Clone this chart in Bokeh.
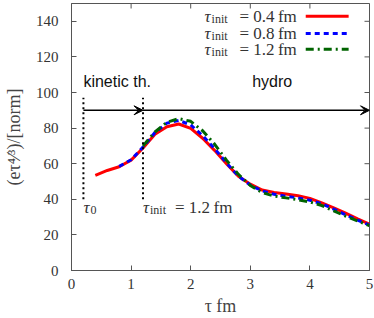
import numpy as np
from bokeh.plotting import figure
from bokeh.models import Range1d, FixedTicker, Arrow, VeeHead
from bokeh.core.properties import value
from bokeh.embed import file_html
from bokeh.resources import INLINE

# ---- data ----
tau_04 = [0.4, 0.6, 0.8, 1.0, 1.2, 1.4, 1.6, 1.8, 2.0, 2.2, 2.4, 2.6, 2.8, 3.0,
          3.2, 3.4, 3.6, 3.8, 4.0, 4.2, 4.4, 4.6, 4.8, 5.0]
e_04 = [53.5, 56.2, 58.3, 62.0, 68.8, 76.5, 80.8, 82.3, 79.8, 74.3, 67.5, 60.0,
        53.0, 48.5, 45.2, 43.8, 43.0, 42.0, 40.5, 38.0, 35.2, 32.2, 29.0, 26.0]

tau_08 = [0.8, 1.0, 1.2, 1.4, 1.6, 1.8, 2.0, 2.2, 2.4, 2.6, 2.8, 3.0,
          3.2, 3.4, 3.6, 3.8, 4.0, 4.2, 4.4, 4.6, 4.8, 5.0]
e_08 = [58.5, 62.2, 69.3, 77.5, 82.8, 84.3, 81.8, 75.8, 68.5, 60.5, 53.0, 48.0,
        44.7, 42.8, 41.7, 40.8, 39.5, 37.5, 34.5, 31.3, 28.3, 25.5]

tau_12 = [1.2, 1.4, 1.6, 1.8, 2.0, 2.2, 2.4, 2.6, 2.8, 3.0,
          3.2, 3.4, 3.6, 3.8, 4.0, 4.2, 4.4, 4.6, 4.8, 5.0]
e_12 = [70.0, 77.8, 83.3, 85.3, 83.8, 78.5, 71.0, 62.0, 54.0, 47.8,
        43.8, 41.8, 40.8, 39.8, 38.5, 36.5, 33.5, 30.5, 27.8, 25.2]

series_labels = ["= 0.4\u2009fm", "= 0.8\u2009fm", "= 1.2\u2009fm"]
x_ticks = [0, 1, 2, 3, 4, 5]
y_ticks = [0, 20, 40, 60, 80, 100, 120, 140]
x_label = "τ fm"
y_label = "(eτ\u2074\u2044\u00b3)/[norm]"
x_max = 5
y_max = 150
tau0 = 0.2
tau_switch = 1.2
marker_y = [40, 97]
arrow_y = 90

# ---- styles ----
colors = ["#ff0000", "#0000ff", "#006400"]
dashes = ["solid", "5 4", "8 4 2 4"]
AX = "#555555"
TXT = "#333333"
SERIF = "Liberation Serif"

p = figure(width=374, height=318, x_range=Range1d(0, x_max), y_range=Range1d(0, y_max),
           output_backend="svg", toolbar_location=None,
           min_border_left=69, min_border_right=5, min_border_top=3, min_border_bottom=48)
p.grid.visible = False
p.outline_line_color = AX
p.background_fill_color = "white"

for ax, ticks in ((p.xaxis[0], x_ticks), (p.yaxis[0], y_ticks)):
    ax.ticker = FixedTicker(ticks=ticks)
    ax.major_tick_in = 5
    ax.major_tick_out = 0
    ax.minor_tick_in = 0
    ax.minor_tick_out = 0
    ax.axis_line_color = AX
    ax.major_tick_line_color = AX
    ax.major_label_text_font = SERIF
    ax.major_label_text_font_size = "15px"
    ax.major_label_text_color = TXT
    ax.axis_label_text_font = SERIF
    ax.axis_label_text_font_size = "18px"
    ax.axis_label_text_font_style = "normal"
    ax.axis_label_text_color = "#444444"

p.xaxis.major_label_standoff = 8
p.xaxis.axis_label = x_label
p.xaxis.axis_label_standoff = 4
p.yaxis.major_label_standoff = 13
p.yaxis.axis_label = y_label
p.yaxis.axis_label_standoff = 9

# mirrored inward ticks on top and right edges (clipped to the frame)
p.scatter(x=x_ticks, y=[y_max] * len(x_ticks), marker="dash", size=10, angle=np.pi / 2,
          line_color=AX, line_width=1)
p.scatter(x=[x_max] * len(y_ticks), y=y_ticks, marker="dash", size=10,
          line_color=AX, line_width=1)

# curves
for t, e, c, d in zip((tau_04, tau_08, tau_12), (e_04, e_08, e_12), colors, dashes):
    p.line(t, e, line_color=c, line_width=3, line_dash=d)

# phase markers
p.segment(x0=[tau0, tau_switch], y0=[marker_y[0]] * 2, x1=[tau0, tau_switch], y1=[marker_y[1]] * 2,
          line_color="black", line_width=2, line_dash="2 3")
p.add_layout(Arrow(end=VeeHead(size=9, fill_color="black", line_color="black", line_width=1),
                   x_start=tau0, y_start=arrow_y, x_end=tau_switch, y_end=arrow_y,
                   line_color="black", line_width=1.5))
p.add_layout(Arrow(end=VeeHead(size=9, fill_color="black", line_color="black", line_width=1),
                   x_start=tau_switch, y_start=arrow_y, x_end=x_max, y_end=arrow_y,
                   line_color="black", line_width=1.5))

p.text(x=[tau0, 3.35], y=[106, 106], text=["kinetic th.", "hydro"],
       text_font=value("Liberation Sans"), text_font_size="16px",
       text_color="#111111", text_baseline="middle", text_align="left", x_offset=[0, -19])

# tau_0 and tau_init annotations
p.text(x=[tau0, tau_switch], y=[35.5, 35.5], text=["τ", "τ"],
       text_font=value(SERIF), text_font_size="17px", text_font_style="italic",
       text_color=TXT, text_baseline="middle", text_align="left")
p.text(x=[tau0, tau_switch], y=[35.5, 35.5], text=["0", "init"],
       text_font=value(SERIF), text_font_size="12px",
       text_color=TXT, text_baseline="middle", text_align="left", x_offset=7, y_offset=3)
p.text(x=[tau_switch], y=[35.5], text=["= 1.2\u2009fm"],
       text_font=value(SERIF), text_font_size="17px",
       text_color=TXT, text_baseline="middle", text_align="left", x_offset=32)

# legend (manual, frameless)
leg_y = [142.8, 133.2, 124.3]
leg_text_right = 3.78
leg_tau_x = 2.233
for yy, c, d in zip(leg_y, colors, dashes):
    p.line([3.93, 4.65], [yy, yy], line_color=c, line_width=3, line_dash=d)
p.text(x=[leg_tau_x] * 3, y=leg_y, text=["τ"] * 3, text_font=value(SERIF),
       text_font_size="17px", text_font_style="italic", text_color=TXT,
       text_baseline="middle", text_align="left")
p.text(x=[leg_tau_x] * 3, y=leg_y, text=["init"] * 3, text_font=value(SERIF),
       text_font_size="12px", text_color=TXT, text_baseline="middle", text_align="left",
       x_offset=7, y_offset=3)
p.text(x=[leg_text_right] * 3, y=leg_y, text=series_labels, text_font=value(SERIF),
       text_font_size="17px", text_color=TXT, text_baseline="middle", text_align="right")

open("out.html", "w").write(file_html(p, INLINE))
